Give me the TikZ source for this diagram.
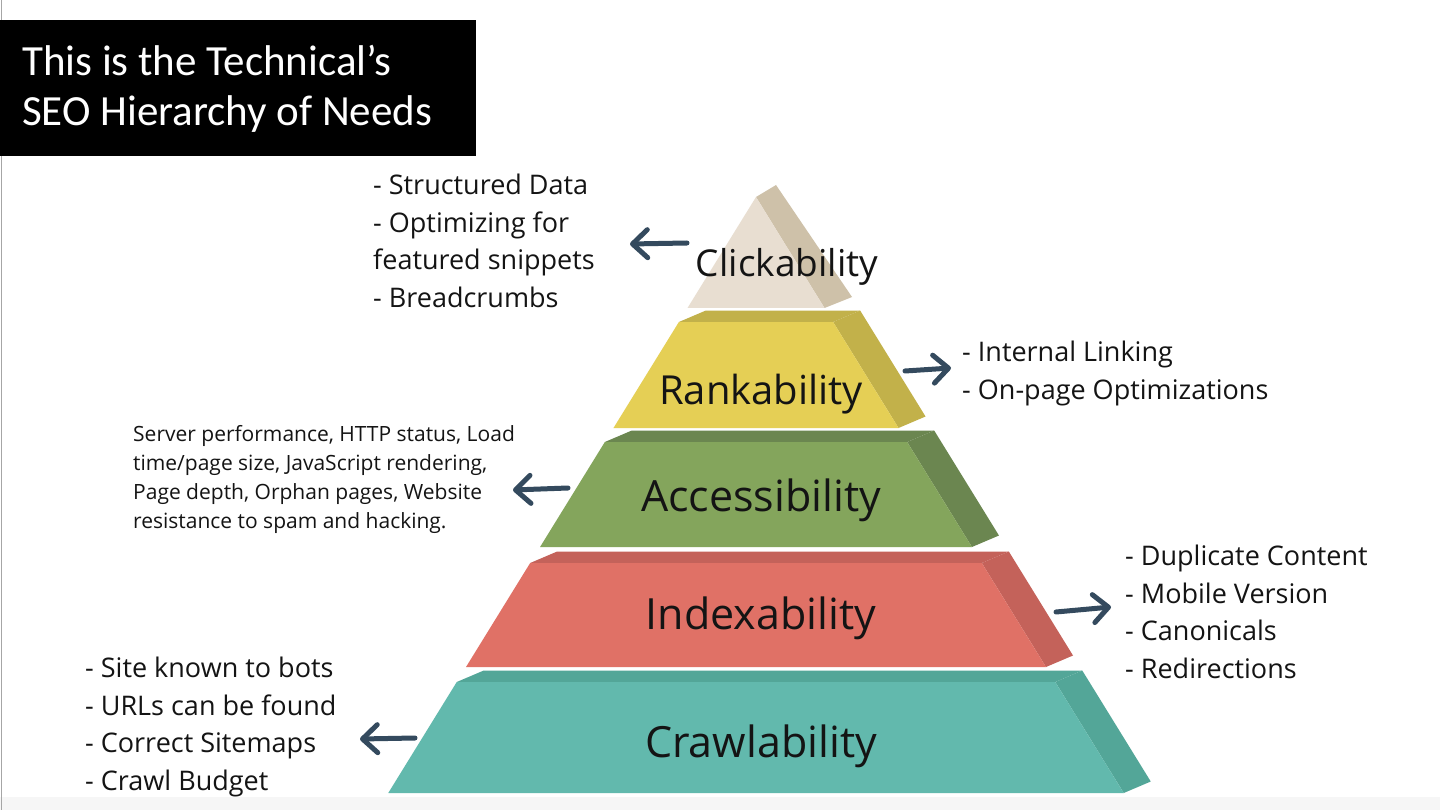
\documentclass[tikz,border=0pt]{standalone}
\usepackage{fontspec}
\setmainfont{Open Sans}
\newfontfamily\titlefont{Carlito}
\usetikzlibrary{arrows.meta}
\definecolor{clickF}{HTML}{E8DED1}
\definecolor{clickD}{HTML}{CEC1A9}
\definecolor{rankF}{HTML}{E5CF55}
\definecolor{rankD}{HTML}{C2B14A}
\definecolor{accF}{HTML}{84A55C}
\definecolor{accD}{HTML}{6B8650}
\definecolor{idxF}{HTML}{E07166}
\definecolor{idxD}{HTML}{C4625A}
\definecolor{crawlF}{HTML}{62B9AD}
\definecolor{crawlD}{HTML}{53A698}
\definecolor{arrowC}{HTML}{344A5E}
\definecolor{txt}{HTML}{141414}
\definecolor{stripC}{HTML}{F6F6F6}
\newcommand{\pyrlevel}[4]{%
  \pgfmathsetmacro\xtl{756-0.617*(#1-197)}%
  \pgfmathsetmacro\xtr{756+0.617*(#1-197)}%
  \pgfmathsetmacro\xbl{756-0.617*(#2-197)}%
  \pgfmathsetmacro\xbr{756+0.617*(#2-197)}%
  \fill[#4] (\xtl,#1) -- (\xtl+27,#1-11.5) -- (\xtr+27,#1-11.5) -- (\xtr,#1) -- cycle;
  \fill[#4] (\xtr,#1) -- (\xtr+27,#1-11.5) -- (\xbr+27,#2-11.5) -- (\xbr,#2) -- cycle;
  \fill[#3] (\xtl,#1) -- (\xtr,#1) -- (\xbr,#2) -- (\xbl,#2) -- cycle;
}
\tikzset{
  lvl/.style={text=txt, inner sep=0pt},
  side/.style={text=txt, inner sep=0pt, anchor=north west, align=left},
  pointer/.style={draw=arrowC, line width=5pt, line cap=round,
    -{Straight Barb[length=15pt,width=28pt,line cap=round,line join=round]}}
}
\begin{document}
\begin{tikzpicture}[x=1pt,y=-1pt]
\useasboundingbox (0,0) rectangle (1440,810);
\fill[white] (0,0) rectangle (1440,810);
\fill[stripC] (0,797) rectangle (1440,810);
\draw[gray!70, line width=1pt] (1.5,0) -- (1.5,810);

% title
\fill[black] (0,20) rectangle (476,156);
\node[anchor=north west, inner sep=0pt, text=white, align=left,
  font=\titlefont\fontsize{43}{50}\selectfont] (title) at (22,45)
  {This is the Technical’s\\SEO Hierarchy of Needs};

% pyramid
\fill[clickD] (756,197) -- (776,185) -- (852,297) -- (824.5,308) -- cycle;
\fill[clickF] (756,197) -- (824.5,308) -- (687.5,308) -- cycle;
\pyrlevel{322}{428}{rankF}{rankD}
\pyrlevel{442}{547}{accF}{accD}
\pyrlevel{563}{667}{idxF}{idxD}
\pyrlevel{682}{793}{crawlF}{crawlD}

\node[lvl, font=\fontsize{37}{44}\selectfont] (click) at (787,267) {Clickability};
\node[lvl, font=\fontsize{40}{48}\selectfont] (rank) at (761,394) {Rankability};
\node[lvl, font=\fontsize{43}{50}\selectfont] (acc) at (761,500) {Accessibility};
\node[lvl, font=\fontsize{43}{50}\selectfont] (idx) at (761,618) {Indexability};
\node[lvl, font=\fontsize{43}{50}\selectfont] (crawl) at (761,746) {Crawlability};

% side texts
\node[side, font=\fontsize{27}{37.5}\selectfont] (clicktxt) at (373,174)
  {- Structured Data\\- Optimizing for\\featured snippets\\- Breadcrumbs};
\node[side, font=\fontsize{27}{37.5}\selectfont] (ranktxt) at (962,341)
  {- Internal Linking\\- On-page Optimizations};
\node[side, font=\fontsize{21}{29}\selectfont] (acctxt) at (133,425)
  {Server performance, HTTP status, Load\\time/page size, JavaScript rendering,\\Page depth, Orphan pages, Website\\resistance to spam and hacking.};
\node[side, font=\fontsize{27}{37.5}\selectfont] (idxtxt) at (1125,545)
  {- Duplicate Content\\- Mobile Version\\- Canonicals\\- Redirections};
\node[side, font=\fontsize{27}{37.5}\selectfont] (crawltxt) at (85,657)
  {- Site known to bots\\- URLs can be found\\- Correct Sitemaps\\- Crawl Budget};

% arrows
\coordinate (a1s) at (687,243); \coordinate (a1e) at (630,244);
\coordinate (a2s) at (905,371); \coordinate (a2e) at (951,368);
\coordinate (a3s) at (568,488); \coordinate (a3e) at (513,490);
\coordinate (a4s) at (1056,612); \coordinate (a4e) at (1111,607);
\coordinate (a5s) at (415,738); \coordinate (a5e) at (360,739);
\draw[pointer] (a1s) -- (a1e);
\draw[pointer] (a2s) -- (a2e);
\draw[pointer] (a3s) -- (a3e);
\draw[pointer] (a4s) -- (a4e);
\draw[pointer] (a5s) -- (a5e);
\end{tikzpicture}
\end{document}
